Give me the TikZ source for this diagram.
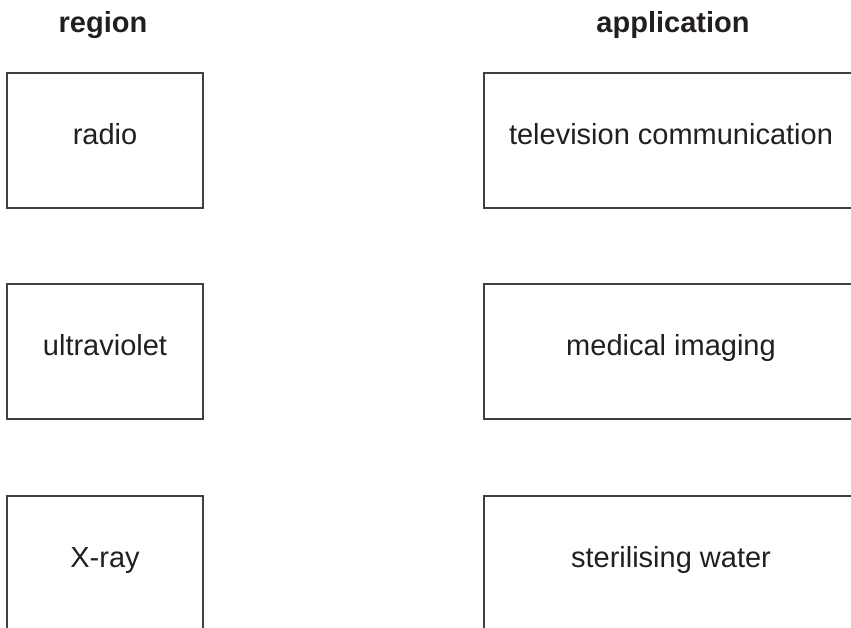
\documentclass[tikz,border=0pt]{standalone}
\usepackage{fontspec}
\setmainfont{Liberation Sans}
\definecolor{ink}{HTML}{231F20}
\definecolor{frame}{HTML}{404040}
\begin{document}
\begin{tikzpicture}[x=1pt,y=-1pt,
  heading/.style={font=\fontsize{29}{34}\selectfont\bfseries, text=ink, anchor=base, inner sep=0pt},
  box/.style={draw=frame, line width=1.4pt, rectangle, text=ink,
    font=\fontsize{29}{34}\selectfont, inner sep=0pt,
    text height=0.9em, text depth=0.12em},
  regionbox/.style={box, minimum width=196pt, minimum height=135pt},
  appbox/.style={box, minimum width=374pt, minimum height=135pt}]
  \useasboundingbox (0,0) rectangle (851,627);
  \clip (0,0) rectangle (851,627);

  % column headings
  \node[heading] (hregion) at (103,32.5) {region};
  \node[heading] (happ) at (673,32.5) {application};

  % left column: regions of the spectrum
  \node[regionbox] (radio) at (105,140.5) {radio};
  \node[regionbox] (uv)    at (105,351.5) {ultraviolet};
  \node[regionbox] (xray)  at (105,563.5) {X-ray};

  % right column: applications
  \node[appbox] (tv)    at (671,140.5) {television communication};
  \node[appbox] (med)   at (671,351.5) {medical imaging};
  \node[appbox] (steri) at (671,563.5) {sterilising water};
\end{tikzpicture}
\end{document}
